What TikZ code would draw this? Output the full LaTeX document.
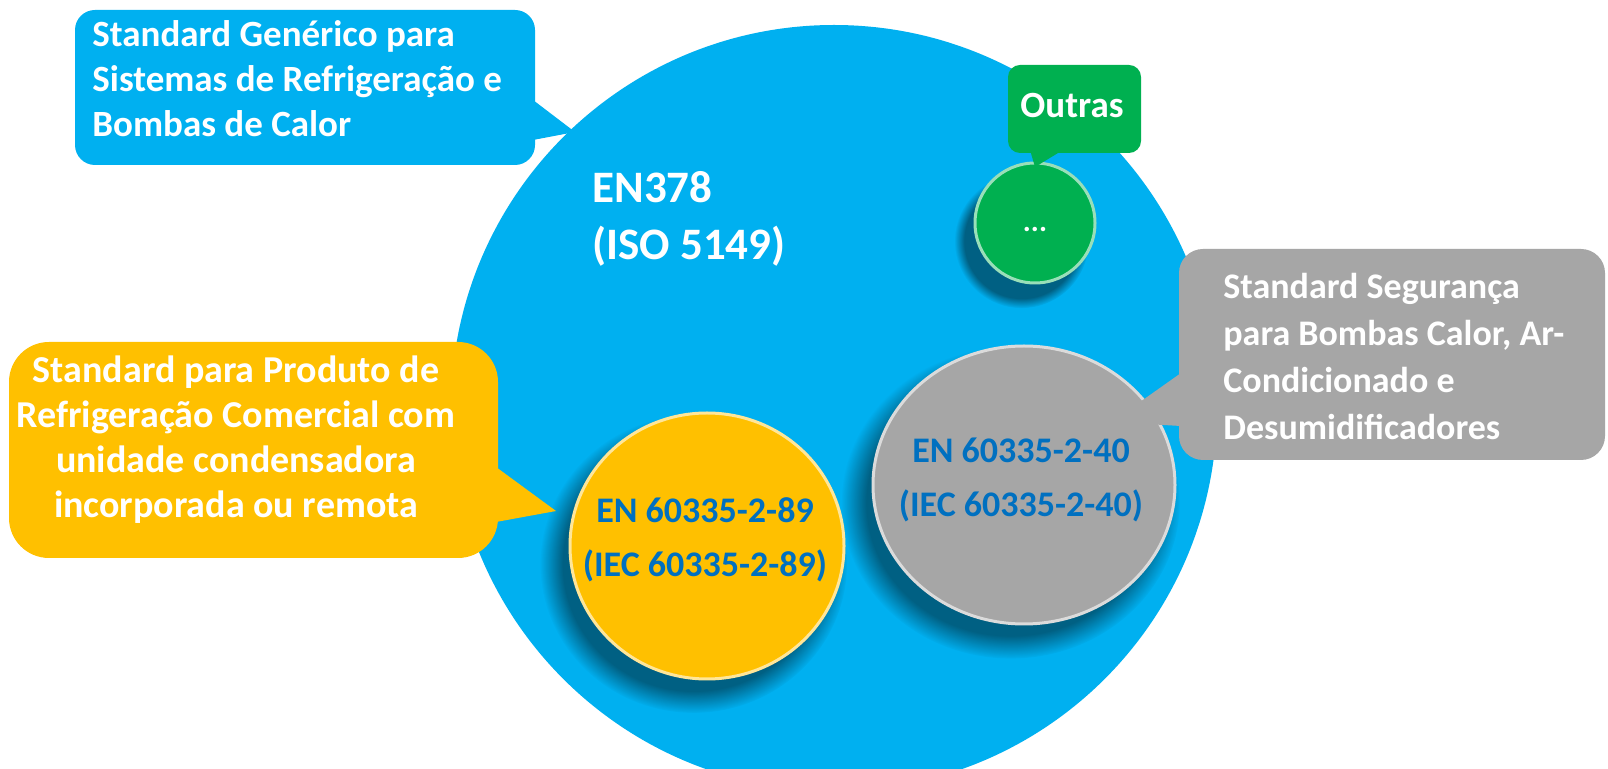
\documentclass[tikz,border=0pt]{standalone}
\usepackage{fontspec}
\setmainfont{Carlito}
\usetikzlibrary{shapes.geometric,shadows}
\definecolor{skyblue}{HTML}{00B0F0}
\definecolor{amber}{HTML}{FFC000}
\definecolor{stone}{HTML}{A6A6A6}
\definecolor{leaf}{HTML}{00B050}
\definecolor{ink}{HTML}{0070C0}

\tikzset{
  bubble/.style={rounded corners=#1,inner sep=0pt},
  caption/.style={text=white,font=\bfseries\fontsize{18.5}{22.5}\selectfont,inner sep=0pt,align=left},
  badge/.style={ellipse,inner sep=0pt,fill=#1,draw=#1!40!white,line width=1.5pt,
    circular drop shadow={shadow xshift=-6pt,shadow yshift=-8pt,shadow scale=1.12,opacity=.45,fill=black}},
  codes/.style={text=ink,font=\bfseries\fontsize{18}{27}\selectfont,inner sep=0pt,align=center,anchor=base},
}

\begin{document}
\begin{tikzpicture}[x=0.5pt,y=-0.5pt]
  \path[use as bounding box,fill=white] (0,0) rectangle (1608,769);
  \clip (0,0) rectangle (1608,769);

  % the generic standard
  \node[circle,fill=skyblue,minimum size=383pt,inner sep=0pt] (en378) at (834,408) {};

  % product standards inside it
  \node[badge=leaf,minimum size=60pt] (more) at (1035,223) {};
  \node[badge=amber,minimum width=137pt,minimum height=133pt] (iec89) at (707,546) {};
  \node[badge=stone,minimum width=151pt,minimum height=139pt] (iec40) at (1024,485) {};

  % callouts
  \node[bubble=10pt,fill=skyblue,minimum width=230pt,minimum height=77.5pt] (genbox) at (305,87.5) {};
  \fill[skyblue] (533,100) -- (575,132) -- (533,140) -- cycle;
  \node[bubble=20pt,fill=amber,minimum width=244.5pt,minimum height=108pt] (prodbox) at (253.5,450) {};
  \fill[amber] (496,467) -- (556,511) -- (496,522) -- cycle;
  \node[bubble=12pt,fill=stone,minimum width=213pt,minimum height=105.5pt] (safebox) at (1392,354.5) {};
  \fill[stone] (1181,373) -- (1140,402) -- (1146,424) -- (1181,426) -- cycle;
  \node[bubble=6pt,fill=leaf,minimum width=66.5pt,minimum height=44pt] (otherbox) at (1074.5,109) {};
  \fill[leaf] (1030,150) -- (1035,167) -- (1063,150) -- cycle;

  % texts (base = last line)
  \node[caption,anchor=base west,font=\bfseries\fontsize{22.5}{28.5}\selectfont] (en378txt) at (592,260) {EN378\\(ISO 5149)};
  \node[caption,anchor=base west] (gentxt) at (92,137) {Standard Genérico para\\Sistemas de Refrigeração e\\Bombas de Calor};
  \node[caption,align=center,anchor=base,font=\bfseries\fontsize{19}{22.5}\selectfont] (prodtxt) at (236,518) {Standard para Produto de\\Refrigeração Comercial com\\unidade condensadora\\incorporada ou remota};
  \node[caption,anchor=base west,font=\bfseries\fontsize{18}{23.6}\selectfont] (safetxt) at (1223,440) {Standard Segurança\\para Bombas Calor, Ar-\\Condicionado e\\Desumidificadores};
  \node[caption,anchor=base] (othertxt) at (1072,118) {Outras};
  \node[caption,anchor=base,font=\bfseries\fontsize{15}{15}\selectfont] (moretxt) at (1035,232) {...};
  \node[codes] (iec89txt) at (705,577) {EN 60335-2-89\\(IEC 60335-2-89)};
  \node[codes] (iec40txt) at (1021,517) {EN 60335-2-40\\(IEC 60335-2-40)};
\end{tikzpicture}
\end{document}
